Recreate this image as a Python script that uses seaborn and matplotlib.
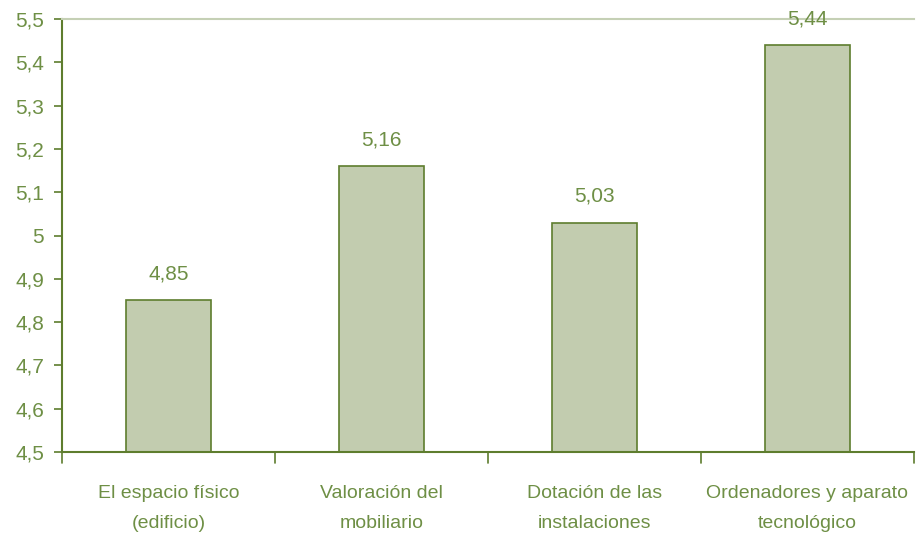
import matplotlib
matplotlib.use("Agg")
import matplotlib.pyplot as plt
import seaborn as sns
import pandas as pd
from matplotlib.ticker import FixedLocator

categories = ["El espacio físico\n(edificio)", "Valoración del\nmobiliario",
              "Dotación de las\ninstalaciones", "Ordenadores y aparato\ntecnológico"]
values = [4.85, 5.16, 5.03, 5.44]
value_labels = ["4,85", "5,16", "5,03", "5,44"]
y_ticks = [4.5, 4.6, 4.7, 4.8, 4.9, 5.0, 5.1, 5.2, 5.3, 5.4, 5.5]
y_tick_labels = ["4,5", "4,6", "4,7", "4,8", "4,9", "5", "5,1", "5,2", "5,3", "5,4", "5,5"]

sns.set_theme(style="white")
plt.rcParams['font.family'] = ['Liberation Sans Narrow', 'Liberation Sans', 'DejaVu Sans']

text_c = "#6E8F45"
edge_c = "#5E7D2E"
fill_c = "#C2CCAF"

df = pd.DataFrame({"cat": categories, "val": values})
fig = plt.figure(figsize=(9.17, 5.40), dpi=100)
ax = fig.add_axes([62/917, 88/540, 852/917, 433/540])
sns.barplot(data=df, x="cat", y="val", ax=ax, color=fill_c, width=0.4,
            edgecolor=edge_c, linewidth=1.2, saturation=1)
ax.set_ylim(4.5, 5.5)
ax.set_xlim(-0.5, 3.5)
ax.set_yticks(y_ticks)
ax.set_yticklabels(y_tick_labels)
ax.set_xlabel("")
ax.set_ylabel("")
ax.xaxis.set_major_locator(FixedLocator([0, 1, 2, 3]))
ax.set_xticklabels(categories, linespacing=2.0)
ax.tick_params(axis="x", length=0, pad=24, labelsize=14, labelcolor=text_c)
ax.tick_params(axis="y", length=6, width=1.2, color=edge_c, direction="out",
               labelsize=15, labelcolor=text_c, pad=7, left=True)
# category boundary ticks
for xb in [-0.5, 0.5, 1.5, 2.5, 3.5]:
    ax.plot([xb, xb], [0, -0.025], transform=ax.get_xaxis_transform(),
            color=edge_c, lw=1.2, clip_on=False)
for s in ["left", "bottom"]:
    ax.spines[s].set_color(edge_c)
    ax.spines[s].set_linewidth(1.5)
ax.spines["right"].set_visible(False)
ax.spines["top"].set_color("#C5D0B5")
ax.spines["top"].set_linewidth(1.5)

for i, (v, lab) in enumerate(zip(values, value_labels)):
    ax.annotate(lab, (i, v), xytext=(0, 12), textcoords="offset points",
                ha="center", va="bottom", fontsize=15, color=text_c)

fig.savefig("out.png", dpi=100, facecolor="white")
